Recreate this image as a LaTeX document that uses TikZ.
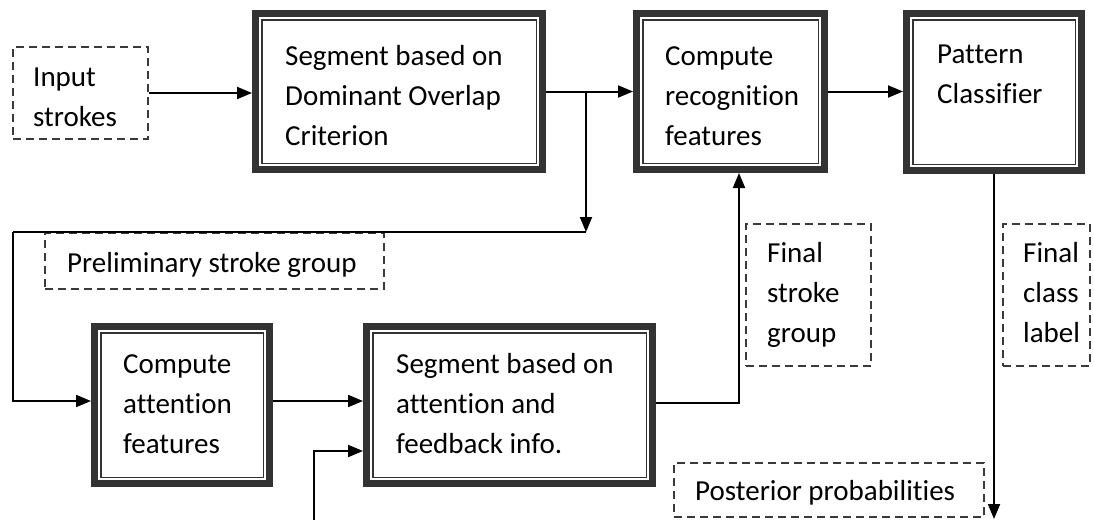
\documentclass[tikz,border=0pt]{standalone}
\usepackage{fontspec}
\setmainfont{Carlito}[Ligatures=NoCommon]
\usetikzlibrary{arrows.meta}
\definecolor{framegray}{HTML}{333333}
\definecolor{dashgray}{HTML}{3A3A3A}

\begin{document}
\begin{tikzpicture}[x=1pt, y=-1pt,
    every node/.style={font=\fontsize{29}{40}\selectfont},
    procbox/.style={draw=framegray, line width=7pt, inner sep=0pt,
      path picture={\draw[framegray, line width=1.5pt]
        ([shift={(6.25pt,-6.25pt)}]path picture bounding box.north west) rectangle
        ([shift={(-6.25pt,6.25pt)}]path picture bounding box.south east);}},
    databox/.style={draw=dashgray, line width=2pt, dash pattern=on 8pt off 5pt, inner sep=0pt},
    txt/.style={anchor=base west, align=left, inner sep=0pt},
    link/.style={line width=2pt},
    flow/.style={link, -{Triangle[length=15pt, width=12pt]}}]
  \useasboundingbox (0,0) rectangle (1094,520);

  % processing blocks
  \node[procbox, minimum width=287pt, minimum height=156pt] (doc) at (399,91.5) {};
  \node[procbox, minimum width=188pt, minimum height=156pt] (recog) at (730.5,91.5) {};
  \node[procbox, minimum width=175pt, minimum height=157pt] (pattern) at (994,92) {};
  \node[procbox, minimum width=175pt, minimum height=157pt] (attn) at (182,405) {};
  \node[procbox, minimum width=286pt, minimum height=157pt] (segatt) at (509.5,405) {};

  % data boxes
  \node[databox, minimum width=135pt, minimum height=92pt] (inp) at (80.5,93) {};
  \node[databox, minimum width=339pt, minimum height=56pt] (prelim) at (214.5,261) {};
  \node[databox, minimum width=125pt, minimum height=142pt] (fsg) at (808.5,295) {};
  \node[databox, minimum width=87pt, minimum height=142pt] (fcl) at (1046.5,295) {};
  \node[databox, minimum width=310pt, minimum height=54pt] (post) at (829,490) {};

  % texts (anchored at the last baseline)
  \node[txt] (doc-t) at (285,145) {Segment based on\\Dominant Overlap\\Criterion};
  \node[txt] (recog-t) at (665,145) {Compute\\recognition\\features};
  \node[txt] (pattern-t) at (937,103) {Pattern\\Classifier};
  \node[txt] (attn-t) at (123,453) {Compute\\attention\\features};
  \node[txt] (segatt-t) at (396,453) {Segment based on\\attention and\\feedback info.};
  \node[txt] (inp-t) at (33,126) {Input\\strokes};
  \node[txt] (prelim-t) at (67,272) {Preliminary stroke group};
  \node[txt] (fsg-t) at (767,342) {Final\\stroke\\group};
  \node[txt] (fcl-t) at (1023,342) {Final\\class\\label};
  \node[txt] (post-t) at (695,500) {Posterior probabilities};

  % connectors
  \coordinate (split) at (586,91.5);
  \coordinate (corner) at (586,232);
  \coordinate (leftbend) at (13,232);
  \coordinate (fbin) at (314,520);
  \coordinate (out) at (994,519);

  \draw[flow] (inp.east) -- (inp.east -| doc.west);
  \draw[flow] (doc) -- (recog);
  \draw[flow] (recog.east) -- (recog.east -| pattern.west);
  \draw[flow] (split) -- (corner);
  \draw[link] (corner) -- (leftbend);
  \draw[flow] (leftbend) |- ([yshift=4pt]attn.west);
  \draw[flow] ([yshift=4pt]attn.east) -- ([yshift=4pt]segatt.west);
  \draw[flow] (fbin) |- ([yshift=-46pt]segatt.west);
  \draw[flow] ([yshift=2pt]segatt.east) -| ([xshift=8.5pt]recog.south);
  \draw[flow] (pattern) -- (out);
\end{tikzpicture}
\end{document}
